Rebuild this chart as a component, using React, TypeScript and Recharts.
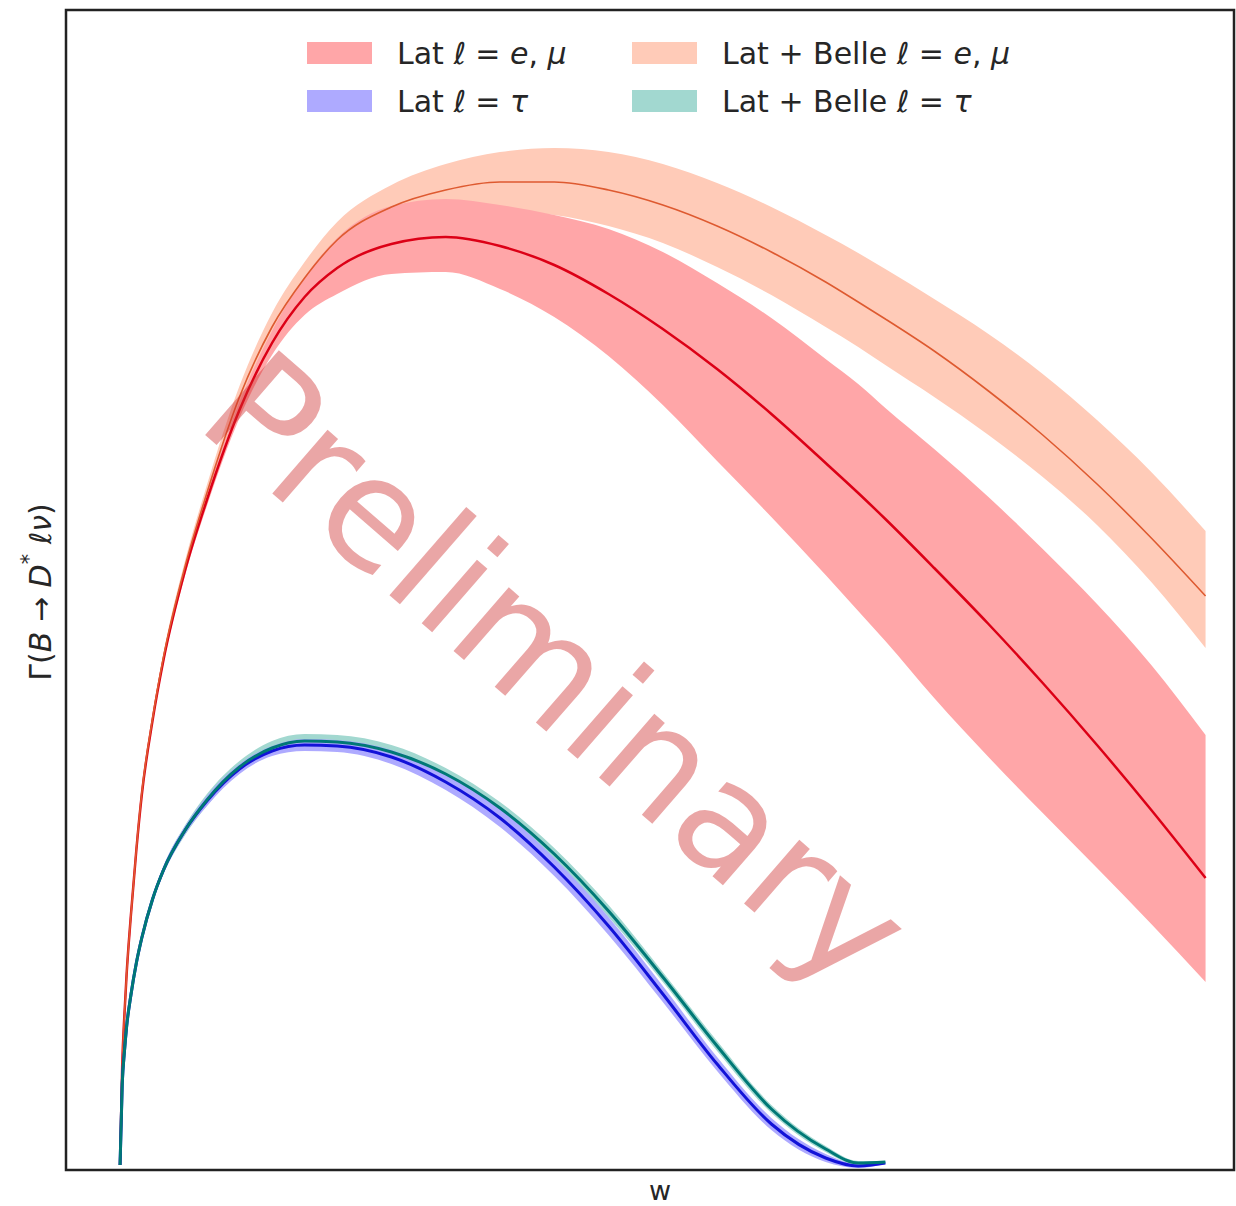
import { ComposedChart, Area, Line, XAxis, YAxis, ReferenceArea } from "recharts";

/* ---------- recoil grid (w) and rates, arbitrary units ---------- */
const W = [
  1.0, 1.001, 1.002, 1.003, 1.005, 1.0075, 1.01, 1.015, 1.02, 1.03, 1.04,
  1.055, 1.07, 1.085, 1.1, 1.125, 1.15, 1.175, 1.2, 1.225, 1.25, 1.275, 1.3,
  1.325, 1.34, 1.3525, 1.375, 1.4, 1.425, 1.45, 1.475, 1.5,
];

// Lat, l = e, mu
const LAT_EMU = [
  0, 0.1, 0.15, 0.19, 0.25, 0.315, 0.37, 0.445, 0.505, 0.595, 0.665, 0.755,
  0.822, 0.868, 0.897, 0.921, 0.928, 0.919, 0.9, 0.871, 0.836, 0.796, 0.751,
  0.702, 0.672, 0.646, 0.597, 0.541, 0.482, 0.42, 0.355, 0.287,
];
const LAT_EMU_LO = [
  0, 0.1, 0.15, 0.189, 0.249, 0.313, 0.368, 0.442, 0.501, 0.59, 0.659, 0.747,
  0.81, 0.85, 0.871, 0.891, 0.893, 0.876, 0.848, 0.809, 0.76, 0.704, 0.648,
  0.59, 0.554, 0.524, 0.467, 0.408, 0.352, 0.297, 0.241, 0.183,
];
const LAT_EMU_HI = [
  0, 0.1, 0.15, 0.191, 0.251, 0.317, 0.372, 0.448, 0.509, 0.6, 0.671, 0.763,
  0.834, 0.888, 0.927, 0.959, 0.966, 0.96, 0.95, 0.936, 0.913, 0.882, 0.847,
  0.806, 0.781, 0.757, 0.716, 0.668, 0.616, 0.561, 0.5, 0.43,
];

// Lat + Belle, l = e, mu
const BELLE_EMU = [
  0, 0.1, 0.15, 0.19, 0.25, 0.316, 0.372, 0.447, 0.508, 0.599, 0.672, 0.768,
  0.838, 0.887, 0.925, 0.958, 0.975, 0.983, 0.983, 0.975, 0.96, 0.939, 0.913,
  0.883, 0.863, 0.846, 0.814, 0.774, 0.73, 0.681, 0.627, 0.569,
];
const BELLE_EMU_LO = [
  0, 0.1, 0.15, 0.189, 0.249, 0.314, 0.37, 0.444, 0.504, 0.593, 0.664, 0.757,
  0.824, 0.871, 0.905, 0.935, 0.95, 0.954, 0.95, 0.939, 0.922, 0.898, 0.87,
  0.838, 0.818, 0.8, 0.768, 0.73, 0.688, 0.64, 0.583, 0.517,
];
const BELLE_EMU_HI = [
  0, 0.1, 0.15, 0.191, 0.251, 0.318, 0.374, 0.45, 0.512, 0.605, 0.68, 0.779,
  0.852, 0.903, 0.943, 0.98, 1.001, 1.013, 1.017, 1.013, 1.001, 0.982, 0.958,
  0.93, 0.912, 0.896, 0.866, 0.831, 0.791, 0.745, 0.693, 0.634,
];

// tau channel stops at the kinematic endpoint (first 26 grid points)
const LAT_TAU = [
  0, 0.081, 0.113, 0.138, 0.17, 0.202, 0.227, 0.266, 0.295, 0.335, 0.364,
  0.396, 0.414, 0.42, 0.419, 0.408, 0.383, 0.347, 0.298, 0.239, 0.171, 0.101,
  0.041, 0.007, -0.001, 0.002,
];
const LAT_TAU_LO = [
  0, 0.081, 0.112, 0.137, 0.168, 0.2, 0.224, 0.263, 0.291, 0.331, 0.359,
  0.391, 0.409, 0.414, 0.413, 0.401, 0.375, 0.338, 0.289, 0.23, 0.163, 0.094,
  0.035, 0.003, -0.003, 0.001,
];
const LAT_TAU_HI = [
  0, 0.081, 0.114, 0.139, 0.172, 0.204, 0.23, 0.269, 0.299, 0.339, 0.369,
  0.401, 0.419, 0.426, 0.425, 0.415, 0.391, 0.356, 0.307, 0.248, 0.179, 0.108,
  0.047, 0.011, 0.001, 0.003,
];

const BELLE_TAU = [
  0, 0.081, 0.113, 0.138, 0.17, 0.202, 0.227, 0.266, 0.295, 0.335, 0.365,
  0.398, 0.417, 0.424, 0.423, 0.413, 0.391, 0.357, 0.311, 0.254, 0.188, 0.119,
  0.056, 0.016, 0.002, 0.003,
];
const BELLE_TAU_LO = [
  0, 0.081, 0.112, 0.137, 0.168, 0.2, 0.224, 0.263, 0.291, 0.33, 0.359, 0.392,
  0.41, 0.417, 0.416, 0.406, 0.385, 0.351, 0.305, 0.248, 0.183, 0.114, 0.052,
  0.013, 0, 0.002,
];
const BELLE_TAU_HI = [
  0, 0.081, 0.114, 0.139, 0.172, 0.204, 0.23, 0.269, 0.299, 0.34, 0.371, 0.404,
  0.424, 0.431, 0.43, 0.42, 0.397, 0.363, 0.317, 0.26, 0.193, 0.124, 0.06,
  0.019, 0.004, 0.004,
];

const X_DOMAIN: [number, number] = [0.9751, 1.5131];
const Y_DOMAIN: [number, number] = [-0.005, 1.155];

const COLORS = {
  latEmuBand: "#ffa6a8",
  latEmuLine: "#dc0016",
  belleEmuBand: "#ffcbb8",
  belleEmuLine: "#de5a30",
  latTauBand: "#aeaaff",
  latTauLine: "#1212d8",
  belleTauBand: "#a2d8d0",
  belleTauLine: "#007876",
};

const rows = W.map((w, i) => {
  const hasTau = i < LAT_TAU.length;
  return {
    w,
    latEmu: LAT_EMU[i],
    latEmuBand: [LAT_EMU_LO[i], LAT_EMU_HI[i]],
    belleEmu: BELLE_EMU[i],
    belleEmuBand: [BELLE_EMU_LO[i], BELLE_EMU_HI[i]],
    latTau: hasTau ? LAT_TAU[i] : null,
    latTauBand: hasTau ? [LAT_TAU_LO[i], LAT_TAU_HI[i]] : null,
    belleTau: hasTau ? BELLE_TAU[i] : null,
    belleTauBand: hasTau ? [BELLE_TAU_LO[i], BELLE_TAU_HI[i]] : null,
  };
});

const TEXT = "#262626";

function LegendEntry({
  x,
  y,
  color,
  children,
}: {
  x: number;
  y: number;
  color: string;
  children: React.ReactNode;
}) {
  return (
    <g>
      <rect x={x} y={y} width={65} height={22} fill={color} />
      <text x={x + 90} y={y + 22} fontSize={30} fill={TEXT}>
        {children}
      </text>
    </g>
  );
}

const it = (s: string) => <tspan fontStyle="italic">{s}</tspan>;

export default function App() {
  return (
    <div
      style={{
        position: "absolute",
        left: 0,
        top: 0,
        width: 1236,
        height: 1206,
        background: "#fff",
        fontFamily: "'DejaVu Sans', sans-serif",
      }}
    >
      <ComposedChart
        width={1236}
        height={1206}
        data={rows}
        margin={{ top: 10, right: 2, bottom: 0, left: 0 }}
      >
        <XAxis
          dataKey="w"
          type="number"
          domain={X_DOMAIN}
          allowDataOverflow
          tick={false}
          tickLine={false}
          axisLine={false}
          height={36}
        />
        <YAxis
          type="number"
          domain={Y_DOMAIN}
          allowDataOverflow
          tick={false}
          tickLine={false}
          axisLine={false}
          width={66}
        />

        <Area
          dataKey="belleEmuBand"
          type="monotone"
          stroke="none"
          fill={COLORS.belleEmuBand}
          fillOpacity={1}
          isAnimationActive={false}
        />
        <Area
          dataKey="latEmuBand"
          type="monotone"
          stroke="none"
          fill={COLORS.latEmuBand}
          fillOpacity={1}
          isAnimationActive={false}
        />
        <Area
          dataKey="belleTauBand"
          type="monotone"
          stroke="none"
          fill={COLORS.belleTauBand}
          fillOpacity={1}
          isAnimationActive={false}
        />
        <Area
          dataKey="latTauBand"
          type="monotone"
          stroke="none"
          fill={COLORS.latTauBand}
          fillOpacity={1}
          isAnimationActive={false}
        />

        <Line
          dataKey="latEmu"
          type="monotone"
          stroke={COLORS.latEmuLine}
          strokeWidth={2.5}
          dot={false}
          isAnimationActive={false}
        />
        <Line
          dataKey="belleEmu"
          type="monotone"
          stroke={COLORS.belleEmuLine}
          strokeWidth={1.6}
          dot={false}
          isAnimationActive={false}
        />
        <Line
          dataKey="latTau"
          type="monotone"
          stroke={COLORS.latTauLine}
          strokeWidth={3}
          dot={false}
          isAnimationActive={false}
        />
        <Line
          dataKey="belleTau"
          type="monotone"
          stroke={COLORS.belleTauLine}
          strokeWidth={3}
          dot={false}
          isAnimationActive={false}
        />

        <ReferenceArea
          x1={X_DOMAIN[0]}
          x2={X_DOMAIN[1]}
          y1={Y_DOMAIN[0]}
          y2={Y_DOMAIN[1]}
          fill="none"
          stroke="#222"
          strokeWidth={2.5}
          ifOverflow="visible"
        />
      </ComposedChart>

      {/* legend, axis titles and the draft stamp */}
      <svg
        width={1236}
        height={1206}
        style={{ position: "absolute", left: 0, top: 0, pointerEvents: "none" }}
        fontFamily="'DejaVu Sans', sans-serif"
      >
        <text
          x={557}
          y={670}
          fontSize={154}
          fill="#cc2c2c"
          fillOpacity={0.42}
          textAnchor="middle"
          dominantBaseline="central"
          transform="rotate(41 557 670)"
        >
          Preliminary
        </text>

        <LegendEntry x={307} y={42} color={COLORS.latEmuBand}>
          Lat {it("ℓ")} = {it("e")}, {it("μ")}
        </LegendEntry>
        <LegendEntry x={307} y={90} color={COLORS.latTauBand}>
          Lat {it("ℓ")} = {it("τ")}
        </LegendEntry>
        <LegendEntry x={632} y={42} color={COLORS.belleEmuBand}>
          Lat + Belle {it("ℓ")} = {it("e")}, {it("μ")}
        </LegendEntry>
        <LegendEntry x={632} y={90} color={COLORS.belleTauBand}>
          Lat + Belle {it("ℓ")} = {it("τ")}
        </LegendEntry>

        <text x={660} y={1200} fontSize={27} fill={TEXT} textAnchor="middle">
          w
        </text>
        <text
          x={40}
          y={592}
          fontSize={30}
          fill={TEXT}
          textAnchor="middle"
          dominantBaseline="central"
          transform="rotate(-90 40 592)"
        >
          Γ({it("B")} → {it("D")}
          <tspan fontSize={21} dy={-11}>
            *
          </tspan>
          <tspan dy={11}> </tspan>
          {it("ℓν")})
        </text>
      </svg>
    </div>
  );
}
